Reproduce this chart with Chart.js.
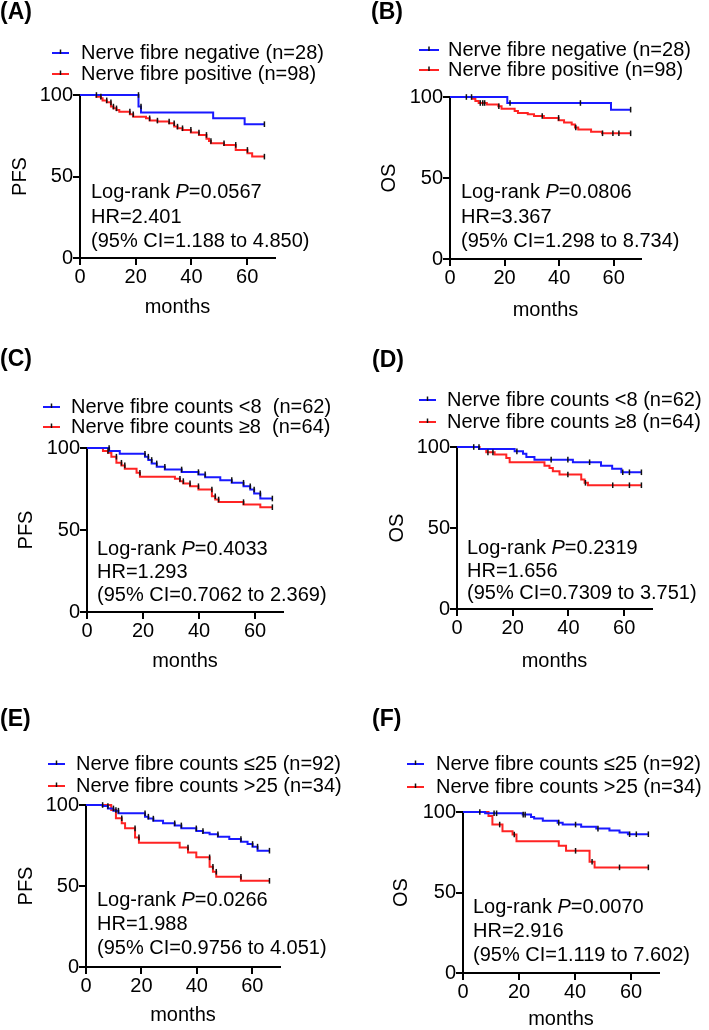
<!DOCTYPE html>
<html>
<head>
<meta charset="utf-8">
<script src="https://cdn.jsdelivr.net/npm/chart.js@4.4.0/dist/chart.umd.min.js"></script>
<style>
html, body { margin: 0; padding: 0; background: #fff; overflow: hidden; }
#wrap { position: relative; width: 709px; height: 1030px; }
canvas { position: absolute; }
</style>
</head>
<body>
<div id="wrap">
  <canvas id="cA"></canvas>
  <canvas id="cB"></canvas>
  <canvas id="cC"></canvas>
  <canvas id="cD"></canvas>
  <canvas id="cE"></canvas>
  <canvas id="cF"></canvas>
</div>
<script>
const FONT = '"Liberation Sans", Arial, Helvetica, sans-serif';
const BLUE = 'rgb(25,25,255)';
const RED = 'rgb(255,35,35)';
const MARK = '#111';

const xTicks = [0, 20, 40, 60];
const yTicks = [0, 50, 100];

// (A) PFS, nerve fibre negative / positive
const aNegT = [0, 21.0, 21.9, 47.8, 59.1, 66.2];
const aNegS = [100, 92.9, 89.3, 85.7, 82.1, 82.1];
const aNegC = [21.0, 21.9, 66.2];
const aPosT = [0, 5.9, 7.5, 8.1, 9.6, 11.1, 12.0, 13.1, 14.1, 17.9, 19.1, 23.7, 25.0, 27.8, 32.0, 33.8, 35.0, 36.8, 39.8, 42.7, 45.4, 46.3, 47.0, 51.7, 55.9, 60.1, 61.8, 66.2];
const aPosS = [100, 99.0, 98.0, 96.7, 95.5, 92.9, 91.8, 90.8, 89.8, 88.2, 86.7, 85.7, 84.3, 83.7, 82.7, 80.6, 79.6, 78.6, 77.0, 75.5, 73.1, 71.8, 70.4, 69.4, 66.3, 64.3, 62.2, 62.2];
const aPosC = [5.9, 7.5, 9.6, 11.1, 12.0, 13.1, 17.9, 19.1, 25.0, 27.8, 32.0, 33.8, 35.0, 36.8, 39.8, 42.7, 45.4, 47.0, 51.7, 55.9, 60.1, 66.2];

// (B) OS, nerve fibre negative / positive
const bNegT = [0, 21.0, 59.0, 66.2];
const bNegS = [100, 96.3, 92.2, 92.2];
const bNegC = [6.0, 22.0, 47.8, 66.2];
const bPosT = [0, 8.1, 9.3, 10.5, 13.5, 17.7, 18.9, 23.7, 24.9, 28.5, 30.8, 34.4, 39.8, 41.8, 44.6, 45.8, 47.0, 51.7, 55.7, 66.2];
const bPosS = [100, 98.9, 97.5, 96.3, 95.3, 94.3, 92.8, 91.4, 90.2, 89.4, 88.3, 87.1, 85.7, 84.3, 83.1, 81.2, 80.0, 78.6, 77.6, 77.6];
const bPosC = [7.9, 11.1, 12.0, 12.7, 17.9, 33.8, 39.8, 46.1, 55.9, 59.7, 61.9, 66.2];

// (C) PFS, counts <8 / >=8
const cLowT = [0, 7.9, 11.7, 20.7, 21.9, 23.1, 24.9, 27.8, 33.8, 39.8, 42.2, 47.6, 51.7, 55.9, 58.3, 59.7, 61.9, 66.2];
const cLowS = [100, 98.2, 96.5, 94.7, 92.7, 90.6, 88.6, 86.9, 85.3, 83.9, 82.2, 80.4, 78.8, 76.7, 74.7, 72.3, 69.2, 69.2];
const cLowC = [7.9, 20.7, 21.9, 23.1, 24.9, 27.8, 33.8, 39.8, 42.2, 51.7, 55.9, 58.3, 59.7, 61.9, 66.2];
const cHighT = [0, 5.7, 7.5, 8.7, 10.5, 12.3, 13.5, 17.7, 18.9, 31.4, 33.2, 34.4, 36.8, 39.8, 44.6, 45.8, 47.0, 55.9, 61.9, 66.2];
const cHighS = [100, 98.2, 97.1, 94.7, 91.0, 89.4, 87.4, 84.9, 82.5, 81.2, 79.8, 78.4, 76.7, 74.7, 70.6, 68.6, 67.0, 65.5, 63.9, 63.9];
const cHighC = [7.5, 10.5, 12.3, 13.5, 18.9, 33.2, 34.4, 36.8, 39.8, 44.6, 45.8, 47.0, 55.9, 66.2];

// (D) OS, counts <8 / >=8
const dLowT = [0, 7.9, 20.7, 23.7, 24.9, 27.8, 41.6, 51.7, 55.7, 59.0, 66.2];
const dLowS = [100, 98.8, 97.3, 95.9, 93.9, 92.2, 90.6, 88.5, 86.5, 84.4, 84.4];
const dLowC = [6.0, 7.9, 21.5, 33.8, 39.8, 47.6, 59.5, 61.9, 66.2];
const dHighT = [0, 8.1, 10.5, 13.5, 17.7, 18.9, 31.4, 33.2, 34.4, 36.8, 44.6, 45.8, 47.0, 66.2];
const dHighS = [100, 98.8, 96.7, 95.3, 93.2, 90.6, 88.5, 87.1, 85.0, 83.0, 79.9, 77.9, 76.4, 76.4];
const dHighC = [11.1, 12.9, 39.8, 46.1, 55.9, 61.9, 66.2];

// (E) PFS, counts <=25 / >25
const eLowT = [0, 6.0, 7.9, 9.9, 11.7, 21.3, 22.5, 24.3, 27.8, 32.0, 34.4, 39.8, 42.2, 44.6, 47.6, 51.7, 55.9, 58.3, 60.1, 61.9, 66.2];
const eLowS = [100, 99.4, 97.9, 96.5, 94.9, 92.8, 91.6, 90.3, 88.7, 87.4, 85.6, 83.9, 82.9, 81.9, 80.4, 79.0, 77.3, 75.9, 74.3, 71.8, 71.8];
const eLowC = [6.0, 7.9, 9.9, 11.7, 21.3, 22.5, 24.3, 32.0, 34.4, 39.8, 42.2, 47.6, 55.9, 60.1, 61.9, 66.2];
const eHighT = [0, 9.1, 10.8, 12.9, 14.1, 17.7, 19.1, 33.8, 36.8, 39.8, 44.6, 45.8, 47.0, 55.9, 66.2];
const eHighS = [100, 96.9, 91.8, 88.7, 85.6, 80.0, 76.7, 73.8, 70.7, 67.7, 61.9, 58.8, 55.7, 53.2, 53.2];
const eHighC = [10.8, 12.9, 17.7, 19.1, 36.8, 44.6, 45.8, 47.0, 55.9, 66.2];

// (F) OS, counts <=25 / >25
const fLowT = [0, 7.9, 21.3, 24.3, 25.4, 28.5, 33.8, 35.6, 42.2, 47.6, 52.3, 55.9, 58.9, 66.2];
const fLowS = [100, 99.2, 98.4, 96.9, 95.9, 94.6, 93.4, 92.2, 90.9, 89.7, 88.5, 87.2, 86.2, 86.2];
const fLowC = [6.0, 11.1, 12.0, 21.5, 22.2, 34.2, 40.2, 48.2, 59.5, 61.9, 66.2];
const fHighT = [0, 9.1, 10.5, 14.1, 17.7, 19.1, 34.2, 36.8, 45.2, 47.0, 66.2];
const fHighS = [100, 97.5, 92.2, 88.1, 86.0, 81.9, 79.0, 75.9, 69.1, 65.6, 65.6];
const fHighC = [13.1, 18.3, 40.2, 46.1, 55.9, 66.2];

const legAB = ['Nerve fibre negative (n=28)', 'Nerve fibre positive (n=98)'];
const legC = ['Nerve fibre counts <8  (n=62)', 'Nerve fibre counts \u22658  (n=64)'];
const legD = ['Nerve fibre counts <8 (n=62)', 'Nerve fibre counts \u22658 (n=64)'];
const legEF = ['Nerve fibre counts \u226425 (n=92)', 'Nerve fibre counts >25 (n=34)'];

const statA = ['0.0567', 'HR=2.401', '(95% CI=1.188 to 4.850)'];
const statB = ['0.0806', 'HR=3.367', '(95% CI=1.298 to 8.734)'];
const statC = ['0.4033', 'HR=1.293', '(95% CI=0.7062 to 2.369)'];
const statD = ['0.2319', 'HR=1.656', '(95% CI=0.7309 to 3.751)'];
const statE = ['0.0266', 'HR=1.988', '(95% CI=0.9756 to 4.051)'];
const statF = ['0.0070', 'HR=2.916', '(95% CI=1.119 to 7.602)'];

const panels = [
  {id: 'cA', left: 0, top: 0, W: 354, tag: '(A)', tagX: 0, tagY: 13, yTitle: 'PFS', yTitleX: 20,
   axisX: 80, y100: 95, y0: 258, axisEnd: 275, monthsY: 307,
   legX: 52, legW: 17, legTextX: 81, legY: [53, 74], legend: legAB,
   annX: 91, annY: [192, 217, 241], stat: statA,
   blue: [aNegT, aNegS, aNegC], red: [aPosT, aPosS, aPosC]},
  {id: 'cB', left: 354, top: 0, W: 355, tag: '(B)', tagX: 17, tagY: 13, yTitle: 'OS', yTitleX: 35,
   axisX: 96, y100: 97, y0: 259, axisEnd: 287, monthsY: 310,
   legX: 65, legW: 20, legTextX: 94, legY: [50, 70], legend: legAB,
   annX: 107, annY: [192, 217, 241], stat: statB,
   blue: [bNegT, bNegS, bNegC], red: [bPosT, bPosS, bPosC]},
  {id: 'cC', left: 0, top: 320, W: 354, tag: '(C)', tagX: 0, tagY: 40, yTitle: 'PFS', yTitleX: 26,
   axisX: 87, y100: 128, y0: 292, axisEnd: 283, monthsY: 341,
   legX: 43, legW: 17, legTextX: 71, legY: [87, 107], legend: legC,
   annX: 97, annY: [229, 252, 275], stat: statC,
   blue: [cLowT, cLowS, cLowC], red: [cHighT, cHighS, cHighC]},
  {id: 'cD', left: 354, top: 320, W: 355, tag: '(D)', tagX: 18, tagY: 41, yTitle: 'OS', yTitleX: 43,
   axisX: 103, y100: 127, y0: 289, axisEnd: 298, monthsY: 341,
   legX: 65, legW: 17, legTextX: 93, legY: [80, 102], legend: legD,
   annX: 113, annY: [228, 251, 273], stat: statD,
   blue: [dLowT, dLowS, dLowC], red: [dHighT, dHighS, dHighC]},
  {id: 'cE', left: 0, top: 660, W: 354, tag: '(E)', tagX: 0, tagY: 60, yTitle: 'PFS', yTitleX: 26,
   axisX: 86, y100: 145, y0: 307, axisEnd: 280, monthsY: 355,
   legX: 48, legW: 17, legTextX: 76, legY: [104, 126], legend: legEF,
   annX: 97, annY: [240, 264, 288], stat: statE,
   blue: [eLowT, eLowS, eLowC], red: [eHighT, eHighS, eHighC]},
  {id: 'cF', left: 354, top: 660, W: 355, tag: '(F)', tagX: 18, tagY: 60, yTitle: 'OS', yTitleX: 47,
   axisX: 109, y100: 152, y0: 313, axisEnd: 305, monthsY: 359,
   legX: 53, legW: 17, legTextX: 82, legY: [104, 127], legend: legEF,
   annX: 119, annY: [247, 271, 295], stat: statF,
   blue: [fLowT, fLowS, fLowC], red: [fHighT, fHighS, fHighC]}
];

function curve(t, s) {
  return t.map((v, i) => ({x: v, y: s[i]}));
}

// censor marks sit on the curve: value of the last step before that time
function marks(c, t, s) {
  return c.map(v => {
    let k = 0;
    for (let i = 0; i < t.length; i++) if (t[i] < v) k = i;
    return {x: v, y: s[k]};
  });
}

function textPlugin(p) {
  return {
    id: 'panelText',
    afterDraw(chart) {
      const ctx = chart.ctx;
      ctx.save();
      ctx.textBaseline = 'middle';
      ctx.textAlign = 'left';
      ctx.fillStyle = '#000';
      ctx.font = 'bold 23px ' + FONT;
      ctx.fillText(p.tag, p.tagX, p.tagY);

      ctx.font = '20px ' + FONT;
      [BLUE, RED].forEach((col, i) => {
        const y = p.legY[i];
        ctx.strokeStyle = col;
        ctx.lineWidth = 2;
        ctx.beginPath();
        ctx.moveTo(p.legX, y);
        ctx.lineTo(p.legX + p.legW, y);
        ctx.stroke();
        ctx.strokeStyle = MARK;
        ctx.lineWidth = 1.5;
        ctx.beginPath();
        ctx.moveTo(p.legX + p.legW / 2, y - 3.5);
        ctx.lineTo(p.legX + p.legW / 2, y + 1);
        ctx.stroke();
        ctx.fillText(p.legend[i], p.legTextX, y);
      });

      let x = p.annX;
      const s1 = 'Log-rank ';
      ctx.fillText(s1, x, p.annY[0]);
      x += ctx.measureText(s1).width;
      ctx.font = 'italic 20px ' + FONT;
      ctx.fillText('P', x, p.annY[0]);
      x += ctx.measureText('P').width;
      ctx.font = '20px ' + FONT;
      ctx.fillText('=' + p.stat[0], x, p.annY[0]);
      ctx.fillText(p.stat[1], p.annX, p.annY[1]);
      ctx.fillText(p.stat[2], p.annX, p.annY[2]);
      ctx.restore();
    }
  };
}

panels.forEach(p => {
  const H = p.monthsY + 22;
  const canvas = document.getElementById(p.id);
  canvas.width = p.W;
  canvas.height = H;
  canvas.style.left = p.left + 'px';
  canvas.style.top = p.top + 'px';

  const padLeft = p.yTitleX - 12;
  const padBottom = H - p.monthsY - 12;
  const yW = p.axisX - padLeft;
  const xH = p.monthsY + 12 - p.y0;
  const font = {family: FONT, size: 20};

  const markStyle = {
    type: 'scatter', showLine: false, pointStyle: 'line', pointRotation: 90,
    pointRadius: 2.8, pointHoverRadius: 2.8, pointBorderColor: MARK,
    pointBorderWidth: 1.5, clip: false, order: 0
  };

  new Chart(canvas.getContext('2d'), {
    type: 'line',
    data: {
      datasets: [
        Object.assign({data: marks(p.blue[2], p.blue[0], p.blue[1])}, markStyle),
        Object.assign({data: marks(p.red[2], p.red[0], p.red[1])}, markStyle),
        {data: curve(p.blue[0], p.blue[1]), stepped: true, borderColor: BLUE, borderWidth: 2,
         pointRadius: 0, fill: false, clip: false, order: 1},
        {data: curve(p.red[0], p.red[1]), stepped: true, borderColor: RED, borderWidth: 2,
         pointRadius: 0, fill: false, clip: false, order: 2}
      ]
    },
    options: {
      responsive: false,
      animation: false,
      devicePixelRatio: 1,
      layout: {padding: {left: padLeft, top: p.y100, right: p.W - p.axisEnd, bottom: padBottom}},
      plugins: {legend: {display: false}, tooltip: {enabled: false}},
      scales: {
        x: {
          type: 'linear', min: 0, max: 70,
          afterBuildTicks: s => { s.ticks = xTicks.map(v => ({value: v})); },
          afterFit: s => { s.height = xH; },
          ticks: {color: '#000', font: font, padding: 0, maxRotation: 0},
          grid: {drawOnChartArea: false, drawTicks: true, tickLength: 7, color: '#000', lineWidth: 2},
          border: {color: '#000', width: 2},
          title: {display: true, text: 'months', color: '#000', font: font, padding: 0}
        },
        y: {
          type: 'linear', min: 0, max: 100,
          afterBuildTicks: s => { s.ticks = yTicks.map(v => ({value: v})); },
          afterFit: s => { s.width = yW; },
          ticks: {color: '#000', font: font, padding: 0},
          grid: {drawOnChartArea: false, drawTicks: true, tickLength: 7, color: '#000', lineWidth: 2},
          border: {color: '#000', width: 2},
          title: {display: true, text: p.yTitle, color: '#000', font: font, padding: 0}
        }
      }
    },
    plugins: [textPlugin(p)]
  });
});
</script>
</body>
</html>
